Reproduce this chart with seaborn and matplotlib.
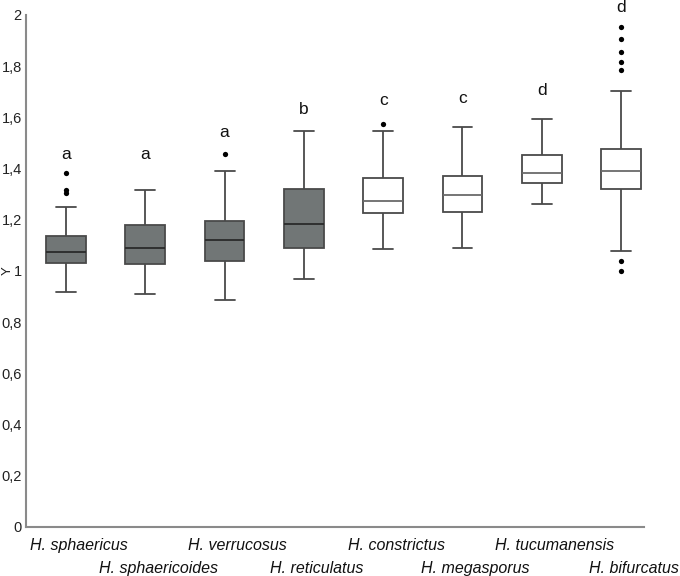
import numpy as np
import pandas as pd
import seaborn as sns
import matplotlib.pyplot as plt
from matplotlib.ticker import FuncFormatter

species = ["H. sphaericus", "H. sphaericoides", "H. verrucosus", "H. reticulatus",
           "H. constrictus", "H. megasporus", "H. tucumanensis", "H. bifurcatus"]
whisker_low = [0.917, 0.911, 0.888, 0.970, 1.085, 1.089, 1.260, 1.080]
q1 = [1.033, 1.028, 1.041, 1.090, 1.228, 1.232, 1.345, 1.319]
median = [1.075, 1.090, 1.123, 1.184, 1.275, 1.298, 1.384, 1.391]
q3 = [1.135, 1.180, 1.197, 1.320, 1.362, 1.371, 1.454, 1.478]
whisker_high = [1.249, 1.315, 1.391, 1.547, 1.545, 1.563, 1.595, 1.703]
outliers = [[1.381, 1.317, 1.304], [], [1.457], [], [1.576], [], [],
            [1.953, 1.905, 1.857, 1.818, 1.784, 1.040, 1.001]]
letters = ["a", "a", "a", "b", "c", "c", "d", "d"]
letter_y = [1.454, 1.454, 1.540, 1.630, 1.667, 1.674, 1.704, 2.031]
shaded = [True, True, True, True, False, False, False, False]

rows = []
for s, lo, a, m, b, hi, g in zip(species, whisker_low, q1, median, q3, whisker_high, shaded):
    for v in (lo, a, m, b, hi):
        rows.append({"species": s, "value": v, "shaded": g})
df = pd.DataFrame(rows)
out_df = pd.DataFrame([{"species": s, "value": v} for s, vals in zip(species, outliers) for v in vals])

sns.set_style("white")
plt.rcParams["font.family"] = ["Liberation Sans", "DejaVu Sans"]

fig = plt.figure(figsize=(6.8, 5.76), dpi=100)
ax = fig.add_axes([26 / 680, 1 - 527 / 576, (644 - 26) / 680, (527 - 15) / 576])

edge = "#4a4a4a"
sns.boxplot(data=df[df.shaded], x="species", y="value", order=species, whis=(0, 100),
            width=0.5, color="#717676", linecolor=edge, linewidth=1.3, saturation=1,
            medianprops={"color": "#2a2a2a", "linewidth": 1.3}, ax=ax)
sns.boxplot(data=df[~df.shaded], x="species", y="value", order=species, whis=(0, 100),
            width=0.5, color="white", linecolor=edge, linewidth=1.3, saturation=1,
            medianprops={"color": "#6a6a6a", "linewidth": 1.3}, ax=ax)
sns.stripplot(data=out_df, x="species", y="value", order=species, jitter=False,
              color="black", size=3.8, ax=ax)

for i, (t, y) in enumerate(zip(letters, letter_y)):
    ax.text(i, y, t, ha="center", va="center", fontsize=12.5, color="#111111", clip_on=False)

ax.set_xlim(-0.505, 7.29)
ax.set_ylim(0, 2)
ax.set_yticks(np.arange(0, 2.01, 0.2))
ax.yaxis.set_major_formatter(FuncFormatter(lambda v, p: (f"{v:.1f}".rstrip("0").rstrip(".")).replace(".", ",")))

shift = 0.165
ax.set_xticks([i + shift for i in range(0, len(species), 2)],
              [species[i] for i in range(0, len(species), 2)])
ax.set_xticks([i + shift for i in range(1, len(species), 2)],
              [species[i] for i in range(1, len(species), 2)], minor=True)
for lab in ax.get_xticklabels(minor=False) + ax.get_xticklabels(minor=True):
    lab.set_fontsize(11.5)
    lab.set_fontstyle("italic")
    lab.set_color("#111111")
ax.tick_params(axis="x", which="major", length=0, pad=8)
ax.tick_params(axis="x", which="minor", length=0, pad=24.5)
ax.tick_params(axis="y", length=3, width=1, color="#808080", labelsize=10.5, labelcolor="#222222", pad=0)
ax.set_xlabel("")
ax.set_ylabel("")
fig.text(7.5 / 680, 1 - 271 / 576, "Y", rotation=90, ha="center", va="center",
         fontsize=9.5, color="#222222")
for sp in ["top", "right"]:
    ax.spines[sp].set_visible(False)
for sp in ["left", "bottom"]:
    ax.spines[sp].set_color("#8a8a8a")
    ax.spines[sp].set_linewidth(1.5)

fig.savefig("out.png", dpi=100)
